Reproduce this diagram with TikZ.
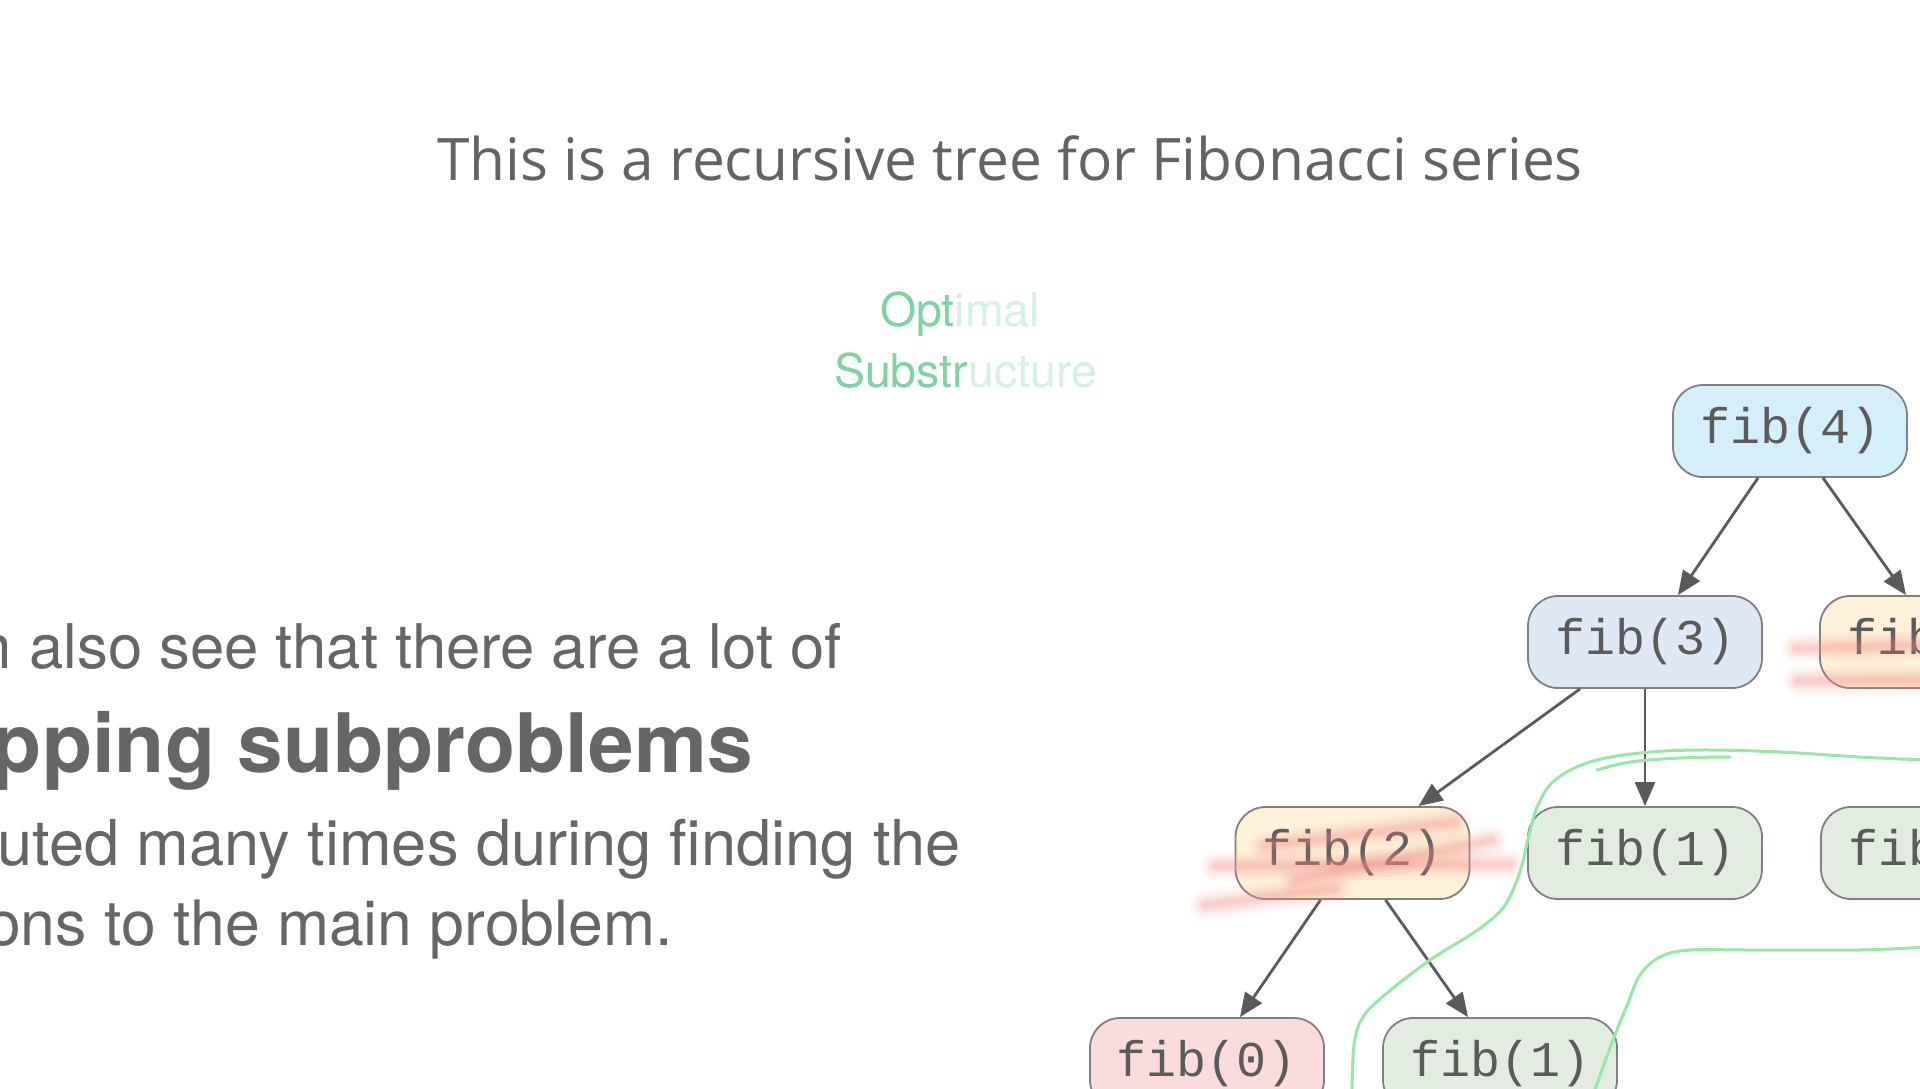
\documentclass[tikz,border=0pt]{standalone}
\usepackage{fontspec}
\usetikzlibrary{arrows.meta,calc}

\newfontfamily\titlefont{Open Sans}
\newfontfamily\bodyfont{TeX Gyre Heros}
\newfontfamily\codefont{Liberation Mono}

\definecolor{titlegray}{HTML}{636363}
\definecolor{bodygray}{HTML}{666666}
\definecolor{optdark}{HTML}{7DD3A2}
\definecolor{optlight}{HTML}{D5F1E2}
\definecolor{arrowgray}{HTML}{5A5A5A}
\definecolor{bordergray}{HTML}{808080}
\definecolor{codegray}{HTML}{5B5B5B}
\definecolor{rootblue}{HTML}{D4EEFA}
\definecolor{paleblue}{HTML}{DEE9F5}
\definecolor{cream}{HTML}{FDF1DA}
\definecolor{palegreen}{HTML}{E3ECE0}
\definecolor{palepink}{HTML}{F9DCDB}
\definecolor{hlred}{HTML}{F58D85}
\definecolor{pengreen}{HTML}{98E6A8}

% soft highlighter smear: layered translucent strokes
\newcommand\smear[1]{%
  \foreach \w/\o in {30/0.06,23/0.08,16/0.11,10/0.13,5/0.12}{%
    \draw[hlred,line cap=round,line width=\w pt,opacity=\o] #1;}}

\tikzset{
  fibnode/.style={draw=bordergray, line width=1.8pt, rounded corners=30pt,
    minimum width=234pt, minimum height=92pt, inner sep=0pt,
    font=\codefont\fontsize{50}{52}\selectfont, text=codegray},
  edge/.style={draw=arrowgray, line width=2.8pt,
    -{Triangle[length=24pt,width=20pt]}},
  pen/.style={draw=pengreen, line width=3pt, line cap=round, line join=round},
  bodytext/.style={inner sep=0pt, text=bodygray,
    font=\bodyfont\fontsize{62.5}{70}\selectfont},
  boldtext/.style={inner sep=0pt, text=bodygray,
    font=\bodyfont\bfseries\fontsize{82}{88}\selectfont},
  opttext/.style={inner sep=0pt, font=\bodyfont\fontsize{46.5}{50}\selectfont},
}

\begin{document}
\begin{tikzpicture}[x=1pt,y=-1pt]
\useasboundingbox[fill=white] (0,0) rectangle (1920,1088);

% heading
\node[inner sep=0pt, anchor=base, text=titlegray,
      font=\titlefont\fontsize{58.6}{64}\selectfont] (title) at (1010,180)
  {This is a recursive tree for Fibonacci series};

% fading label
\node[opttext, anchor=base] (opt1) at (960,326)
  {\textcolor{optdark}{Opt}\textcolor{optlight}{imal}};
\node[opttext, anchor=base] (opt2) at (965.5,387)
  {\textcolor{optdark}{Substr}\textcolor{optlight}{ucture}};

% explanatory paragraph
\node[bodytext, anchor=base east, font=\bodyfont\fontsize{61.6}{70}\selectfont]
  (line1) at (842,668) {n also see that there are a lot of};
\node[boldtext, anchor=base east] (line2) at (753,772) {pping subproblems};
\node[bodytext, anchor=base east, font=\bodyfont\fontsize{63.2}{70}\selectfont]
  (line3) at (961,865) {uted many times during finding the};
\node[bodytext, anchor=base east] (line4) at (673,945) {ons to the main problem.};

% recursion tree
\node[fibnode, fill=rootblue]  (f4)  at (1790,431)  {fib(4)};
\node[fibnode, fill=paleblue]  (f3)  at (1645,642)  {fib(3)};
\node[fibnode, fill=cream]     (f2r) at (1937,642)  {fib(2)};
\node[fibnode, fill=cream]     (f2)  at (1352.5,853) {fib(2)};
\node[fibnode, fill=palegreen] (f1a) at (1645,853)  {fib(1)};
\node[fibnode, fill=palegreen] (f1r) at (1938,853)  {fib(1)};
\node[fibnode, fill=palepink]  (f0)  at (1207,1064) {fib(0)};
\node[fibnode, fill=palegreen] (f1b) at (1500,1064) {fib(1)};

\draw[edge] ($(f4.south)+(-32,0)$) -- ($(f3.north)+(33,0)$);
\draw[edge] ($(f4.south)+(33,0)$)  -- ($(f2r.north)+(-31,0)$);
\draw[edge] ($(f3.south)+(-65,0)$) -- ($(f2.north)+(66,0)$);
\draw[edge] (f3.south) -- (f1a.north);
\draw[edge] ($(f2.south)+(-32,0)$) -- ($(f0.north)+(33,0)$);
\draw[edge] ($(f2.south)+(33,0)$)  -- ($(f1b.north)+(-32,0)$);

% highlighter marks on the repeated subproblem
\smear{(1215,866) -- (1510,864)}
\smear{(1205,905) -- (1335,889)}
\smear{(1295,880) -- (1492,840)}
\smear{(1265,846) -- (1455,822)}
\smear{(1796,648) -- (1935,645)}
\smear{(1798,681) -- (1935,680)}

% hand-drawn pen strokes
\draw[pen] plot[smooth, tension=0.6] coordinates {(1925,760) (1860,757) (1780,752)
  (1700,750) (1640,753) (1590,762) (1555,780) (1538,805) (1529,835) (1522,865)
  (1513,890) (1503,908) (1487,923) (1467,937) (1430,960) (1387,993) (1363,1017)
  (1354,1045) (1352,1095)};
\draw[pen] plot[smooth, tension=0.6] coordinates {(1730,757) (1680,758) (1630,762) (1597,770)};
\draw[pen] plot[smooth, tension=0.6] coordinates {(1925,947) (1860,950) (1750,950)
  (1690,950) (1660,957) (1640,975) (1628,1003) (1613,1040) (1593,1095)};
\end{tikzpicture}
\end{document}
